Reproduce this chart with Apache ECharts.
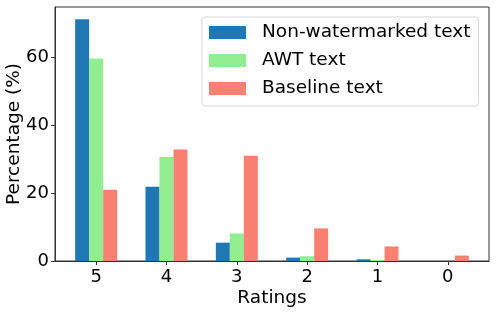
<!DOCTYPE html>
<html>
<head>
<meta charset="utf-8">
<script src="https://cdn.jsdelivr.net/npm/echarts@6/dist/echarts.min.js"></script>
<style>
html,body{margin:0;padding:0;background:#fff;}
#chart{width:498px;height:312px;}
</style>
</head>
<body>
<div id="chart"></div>
<script>
const categories = ['5', '4', '3', '2', '1', '0'];
const nonWatermarked = [71.2, 21.9, 5.4, 1.0, 0.5, 0];
const awtText = [59.6, 30.6, 8.1, 1.4, 0.3, 0];
const baselineText = [21.0, 32.8, 31.0, 9.6, 4.3, 1.6];
const yTicks = [0, 20, 40, 60];
const seriesNames = ['Non-watermarked text', 'AWT text', 'Baseline text'];
const colors = ['#1f77b4', '#90ee90', '#fa8072'];

const FONT = 'DejaVu Sans';
const toPairs = arr => arr.map((v, i) => [i, v]);
const xPositions = categories.map((c, i) => i);

const chart = echarts.init(document.getElementById('chart'), null, {renderer: 'canvas'});
chart.setOption({
  animation: false,
  backgroundColor: '#fff',
  grid: {
    left: 55, right: 9, top: 7, bottom: 51,
    containLabel: false, outerBoundsMode: 'none',
    show: true, borderColor: '#333', borderWidth: 1, backgroundColor: 'transparent'
  },
  legend: {
    orient: 'vertical',
    left: 202, top: 17,
    padding: [6, 8, 8, 7],
    itemWidth: 37, itemHeight: 13, itemGap: 9,
    backgroundColor: '#fff',
    borderColor: '#d6d6d6', borderWidth: 1, borderRadius: 3,
    icon: 'rect',
    textStyle: {fontFamily: FONT, fontSize: 18.5, color: '#000', padding: [0, 0, 0, 11]},
    data: seriesNames
  },
  xAxis: {
    type: 'value',
    min: -0.585, max: 5.585,
    name: 'Ratings', nameLocation: 'middle', nameGap: 28, nameMoveOverlap: false,
    nameTextStyle: {fontFamily: FONT, fontSize: 18.5, color: '#000'},
    axisLine: {show: true, onZero: false, lineStyle: {color: '#333', width: 1}},
    axisTick: {show: true, length: 4, customValues: xPositions, lineStyle: {color: '#333'}},
    axisLabel: {
      customValues: xPositions, fontFamily: FONT, fontSize: 18, color: '#000', margin: 7,
      formatter: v => categories[Math.round(v)]
    },
    splitLine: {show: false}
  },
  yAxis: {
    type: 'value',
    min: 0, max: 74.8,
    name: 'Percentage (%)', nameLocation: 'middle', nameGap: 31, nameRotate: 90, nameMoveOverlap: false,
    nameTextStyle: {fontFamily: FONT, fontSize: 18.5, color: '#000'},
    axisLine: {show: true, onZero: false, lineStyle: {color: '#333', width: 1}},
    axisTick: {show: true, length: 4, customValues: yTicks, lineStyle: {color: '#333'}},
    axisLabel: {customValues: yTicks, fontFamily: FONT, fontSize: 18, color: '#000', margin: 6},
    splitLine: {show: false}
  },
  series: [
    {name: seriesNames[0], type: 'bar', data: toPairs(nonWatermarked), barWidth: 14, barGap: '0%', itemStyle: {color: colors[0]}},
    {name: seriesNames[1], type: 'bar', data: toPairs(awtText), barWidth: 14, barGap: '0%', itemStyle: {color: colors[1]}},
    {name: seriesNames[2], type: 'bar', data: toPairs(baselineText), barWidth: 14, barGap: '0%', itemStyle: {color: colors[2]}}
  ]
});
</script>
</body>
</html>
